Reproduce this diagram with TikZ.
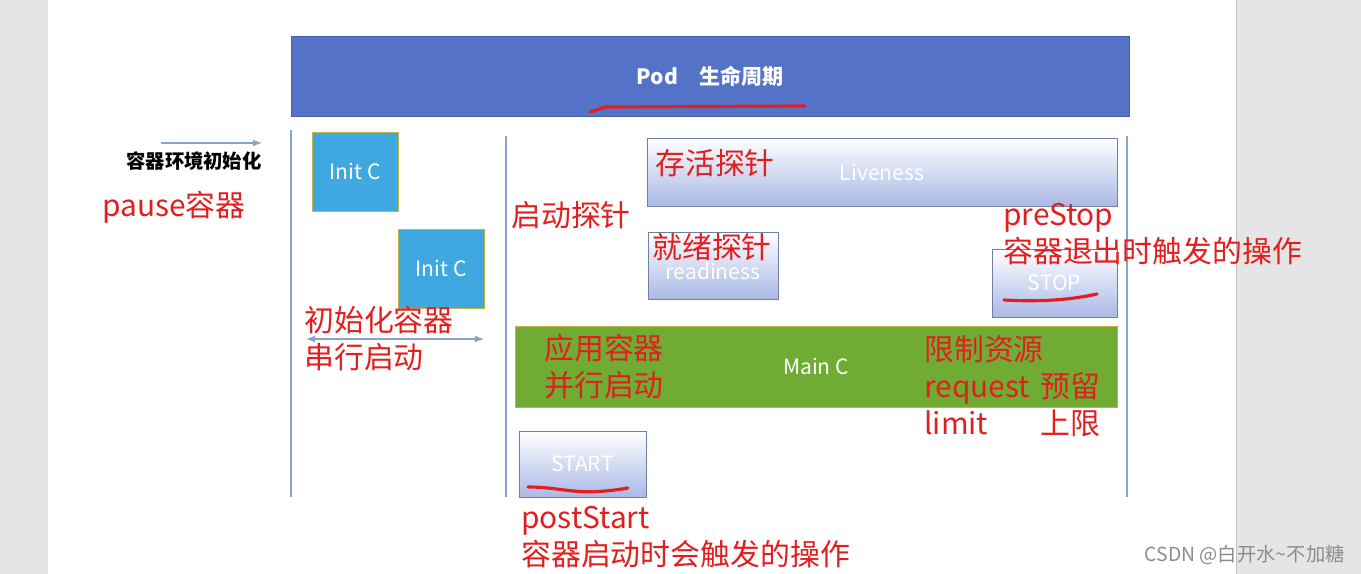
\documentclass[tikz,border=0pt]{standalone}
\usepackage{fontspec}
\newfontfamily\cjk{Noto Sans CJK SC}
\usepackage{tikz}
\usetikzlibrary{arrows, positioning}
\definecolor{podbleu}{RGB}{84,114,198}
\definecolor{initbleu}{RGB}{64,168,224}
\definecolor{vert}{RGB}{112,172,52}
\definecolor{bord}{RGB}{196,180,70}
\definecolor{trait}{RGB}{140,160,205}
\definecolor{rouge}{RGB}{228,30,30}
\definecolor{ciel}{RGB}{170,185,230}
\tikzstyle{fleche} = [->,>=latex,draw=trait,line width=0.8pt]
\tikzstyle{boite} = [inner sep=0pt,outer sep=0pt,font=\cjk\fontsize{12}{14}\selectfont,text=white]
\tikzstyle{sonde} = [boite,draw=trait!80!black,top color=white,bottom color=ciel]
\tikzstyle{note} = [anchor=west,align=left,text=rouge,inner sep=0pt,font=\cjk\fontsize{17}{21}\selectfont]
\tikzstyle{souligne} = [draw=rouge,line width=1.8pt,line cap=round]

\begin{document}
\begin{tikzpicture}[x=0.02cm,y=-0.02cm]
	\useasboundingbox (0,0) rectangle (1361,574);
	\fill[black!10] (0,0) rectangle (1361,574);
	\fill[white] (48,0) rectangle (1236,574);
	\draw[black!25] (1236,0) -- (1236,574);

	% titre
	\node[boite,fill=podbleu,draw=podbleu!85!black,minimum width=16.76cm,minimum height=1.6cm] (pod) at (710,76) {\bfseries Pod\quad 生命周期};
	\draw[souligne] (590,112) -- (605,107) -- (805,106);

	% separations
	\draw[trait,line width=1pt] (291,130) -- (291,497);
	\draw[trait,line width=1pt] (506,136) -- (506,497);
	\draw[trait,line width=1pt] (1127,136) -- (1127,497);

	% environnement
	\coordinate (ea) at (161,143);
	\coordinate (eb) at (262,143);
	\draw[fleche] (ea) -- (eb);
	\node[anchor=east,inner sep=0pt,font=\cjk\fontsize{11}{13}\selectfont\bfseries] (env) at (262,161) {容器环境初始化};
	\node[note] (pause) at (102,207) {pause容器};

	% init
	\node[boite,fill=initbleu,draw=bord,minimum width=1.72cm,minimum height=1.58cm] (init1) at (355,171.5) {Init C};
	\node[boite,fill=initbleu,draw=bord,minimum width=1.72cm,minimum height=1.58cm] (init2) at (441,268.5) {Init C};
	\node[note] (serie) at (304,338.5) {初始化容器\\串行启动};
	\coordinate (sa) at (306,339);
	\coordinate (sb) at (484,339);
	\draw[fleche,<->] (sa) -- (sb);

	% sondes
	\node[note] (startup) at (511,215) {启动探针};
	\node[sonde,minimum width=9.4cm,minimum height=1.36cm] (live) at (882,172) {Liveness};
	\node[note] (vivant) at (655,163) {存活探针};
	\node[sonde,minimum width=2.6cm,minimum height=1.34cm] (ready) at (713,265.5) {\raisebox{-2.4ex}{readiness}};
	\node[note] (pret) at (652,247) {就绪探针};
	\node[sonde,minimum width=2.5cm,minimum height=1.36cm] (stop) at (1054.5,283) {STOP};
	\draw[souligne] (1004,300) .. controls (1040,302) and (1070,300) .. (1097,294);
	\node[note] (prestop) at (1003,234.5) {preStop\\容器退出时触发的操作};

	% main
	\node[boite,fill=vert,draw=bord,minimum width=12.04cm,minimum height=1.62cm] (main) at (816,366.5) {Main C};
	\node[note] (appli) at (544,367) {应用容器\\并行启动};
	\node[note] (limite) at (924,386) {限制资源\\\makebox[2.32cm][l]{request}预留\\\makebox[2.32cm][l]{limit}上限};

	% start
	\node[sonde,minimum width=2.54cm,minimum height=1.32cm] (start) at (582.5,464) {START};
	\draw[souligne] (528,487) .. controls (565,487) and (575,497) .. (628,488);
	\node[note] (poststart) at (521,537.5) {postStart\\容器启动时会触发的操作};

	\node[anchor=east,inner sep=0pt,text=black!45,font=\cjk\fontsize{11}{13}\selectfont] (marque) at (1345,555) {CSDN @白开水\textasciitilde 不加糖};
\end{tikzpicture}
\end{document}
